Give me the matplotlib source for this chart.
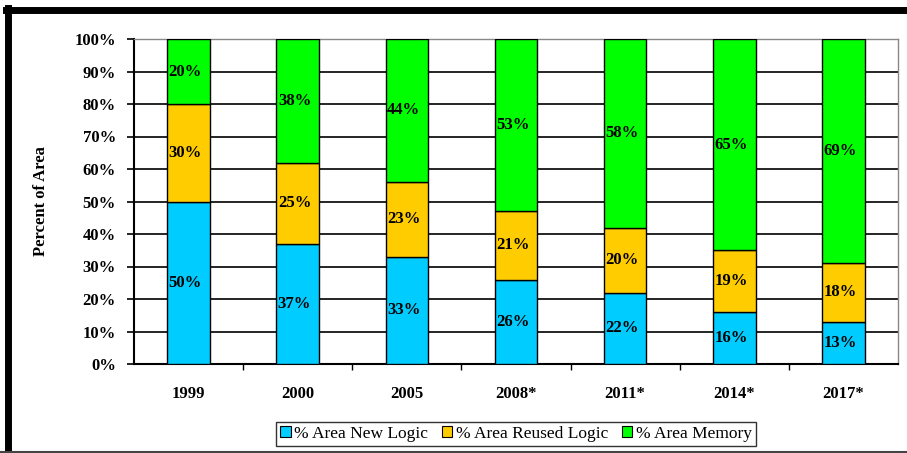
import matplotlib.pyplot as plt
import numpy as np
from matplotlib.lines import Line2D
from matplotlib.patches import Patch

years = ["1999", "2000", "2005", "2008*", "2011*", "2014*", "2017*"]
new_logic = [50, 37, 33, 26, 22, 16, 13]
reused_logic = [30, 25, 23, 21, 20, 19, 18]
memory = [20, 38, 44, 53, 58, 65, 69]
series_names = ["% Area New Logic", "% Area Reused Logic", "% Area Memory"]
colors = ["#00CCFF", "#FFCC00", "#00FF00"]

plt.rcParams["font.family"] = ["Liberation Serif", "DejaVu Serif"]

fig = plt.figure(figsize=(9.07, 4.53), dpi=100)
ax = fig.add_axes([134 / 907, 1 - 364 / 453, (898 - 134) / 907, (364 - 39) / 453])

x = np.arange(len(years))
width = 0.39
bottom = np.zeros(len(years))
for vals, color in zip([new_logic, reused_logic, memory], colors):
    vals = np.array(vals, dtype=float)
    ax.bar(x, vals, width, bottom=bottom, color=color, edgecolor="black",
           linewidth=1.0, zorder=3)
    for xi, b, v in zip(x, bottom, vals):
        ax.text(xi - 0.03, b + v / 2, f"{int(v)}%", ha="center", va="center",
                fontsize=12, fontweight="bold", zorder=4)
    bottom += vals

ax.set_xlim(-0.5, len(years) - 0.5)
ax.set_ylim(0, 100)
ax.set_yticks(np.arange(0, 101, 10))
ax.set_yticklabels([f"{v}%" for v in range(0, 101, 10)], fontsize=12, fontweight="bold")
ax.yaxis.grid(True, color="black", linewidth=1.2, zorder=0)
ax.set_axisbelow(True)

ax.set_xticks(x)
ax.set_xticklabels(years, fontsize=12, fontweight="bold")
ax.tick_params(axis="x", length=0, pad=16)
ax.set_xticks(np.arange(0.5, len(years) - 0.5, 1), minor=True)
ax.tick_params(axis="x", which="minor", length=4, direction="out", width=1)
ax.tick_params(axis="y", length=5, width=1.2, direction="out", pad=8)

ax.spines["left"].set_linewidth(1.5)
ax.spines["bottom"].set_linewidth(1.5)
ax.spines["top"].set_color("#888888")
ax.spines["right"].set_color("#888888")
ax.spines["top"].set_linewidth(1.0)
ax.spines["right"].set_linewidth(1.0)

ax.set_ylabel("Percent of Area", fontsize=12, fontweight="bold", labelpad=18)

handles = [Patch(facecolor=c, edgecolor="black", linewidth=0.8) for c in colors]
leg = fig.legend(handles, series_names, loc="center", bbox_to_anchor=(516 / 907, 1 - 434 / 453),
                 ncol=3, frameon=True, fontsize=12.5, handlelength=0.6, handleheight=0.6,
                 handletextpad=0.2, columnspacing=0.8, borderpad=0.25, fancybox=False)
leg.get_frame().set_edgecolor("black")
leg.get_frame().set_linewidth(1.0)

# outer frame
fig.add_artist(Line2D([8 / 907, 8 / 907], [0, 1 - 8 / 453], transform=fig.transFigure,
                      color="black", linewidth=5))
fig.add_artist(Line2D([6 / 907, 1], [1 - 10 / 453, 1 - 10 / 453], transform=fig.transFigure,
                      color="black", linewidth=5))
fig.add_artist(Line2D([0, 1], [1.5 / 453, 1.5 / 453], transform=fig.transFigure,
                      color="#444444", linewidth=1.5))

fig.savefig("out.png", dpi=100)
